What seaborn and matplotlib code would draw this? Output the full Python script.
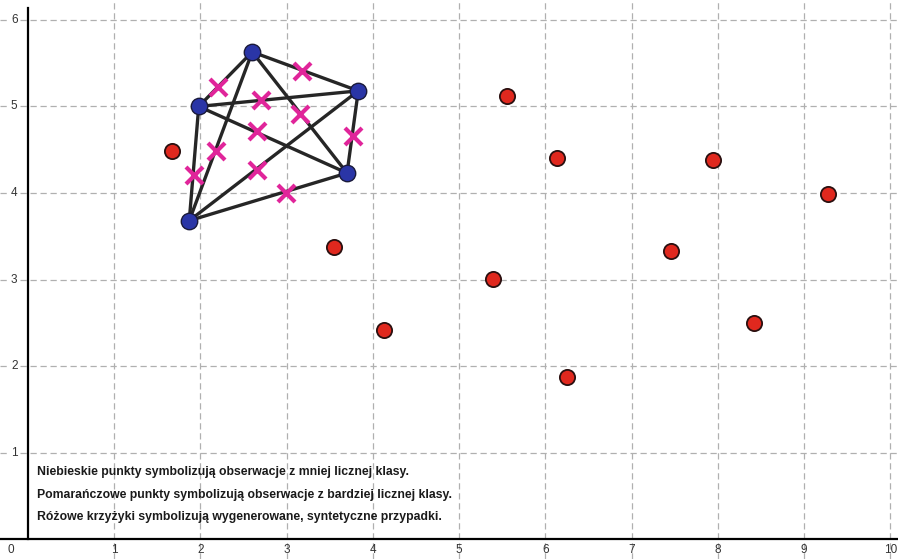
import itertools
import numpy as np
import pandas as pd
import matplotlib
matplotlib.use("Agg")
import matplotlib.pyplot as plt
import seaborn as sns

# minority class (blue)
blue_x = [2.60, 1.98, 3.83, 3.70, 1.87]
blue_y = [5.63, 5.00, 5.18, 4.23, 3.68]

# majority class (red)
red_x = [1.67, 3.55, 5.56, 6.14, 7.94, 9.28, 7.46, 5.39, 4.13, 8.42, 6.25]
red_y = [4.49, 3.38, 5.12, 4.40, 4.38, 3.99, 3.33, 3.01, 2.42, 2.50, 1.87]

# synthetic samples (pink crosses)
pink_x = [2.20, 3.18, 2.70, 3.16, 2.65, 3.77, 2.18, 1.92, 2.66, 2.99]
pink_y = [5.22, 5.41, 5.07, 4.91, 4.72, 4.66, 4.48, 4.21, 4.27, 4.00]

x_ticks = [1, 2, 3, 4, 5, 6, 7, 8, 9, 10]
y_ticks = [1, 2, 3, 4, 5, 6]

notes = [
    "Niebieskie punkty symbolizują obserwacje z mniej licznej klasy.",
    "Pomarańczowe punkty symbolizują obserwacje z bardziej licznej klasy.",
    "Różowe krzyżyki symbolizują wygenerowane, syntetyczne przypadki.",
]

sns.set_style("white")
plt.rcParams['font.family'] = ['Liberation Sans', 'DejaVu Sans']

fig = plt.figure(figsize=(8.98, 5.59), dpi=100)
ax = fig.add_axes([0, 0, 1, 1])

blue = pd.DataFrame({"x": blue_x, "y": blue_y})
red = pd.DataFrame({"x": red_x, "y": red_y})
pink = pd.DataFrame({"x": pink_x, "y": pink_y})

# grid
for v in x_ticks:
    ax.axvline(v, color="#b0b0b0", lw=0.9, ls=(0, (5, 3)), zorder=0)
for v in y_ticks:
    ax.axhline(v, color="#b0b0b0", lw=0.9, ls=(0, (5, 3)), zorder=0)

# edges between every pair of minority points
for i, j in itertools.combinations(range(len(blue_x)), 2):
    ax.plot([blue_x[i], blue_x[j]], [blue_y[i], blue_y[j]],
            color="#262626", lw=2.4, zorder=2)

sns.scatterplot(data=pink, x="x", y="y", ax=ax, marker="x", s=150,
                color="#e0259a", linewidth=3.0, zorder=4)
sns.scatterplot(data=blue, x="x", y="y", ax=ax, s=140, color="#2a35a6",
                edgecolor="#1a1a3a", linewidth=1.0, zorder=5)
sns.scatterplot(data=red, x="x", y="y", ax=ax, s=120, color="#e0281e",
                edgecolor="#2a1010", linewidth=1.3, zorder=5)

ax.set_xlim(-0.325, 10.09)
ax.set_ylim(-0.23, 6.23)
ax.set_xlabel("")
ax.set_ylabel("")
ax.set_xticks([])
ax.set_yticks([])

for s in ["top", "right"]:
    ax.spines[s].set_visible(False)
ax.spines["left"].set_position(("data", 0))
ax.spines["bottom"].set_position(("data", 0))
ax.spines["left"].set_bounds(0, 6.14)
ax.spines["left"].set_linewidth(1.6)
ax.spines["bottom"].set_linewidth(1.6)
ax.spines["left"].set_color("black")
ax.spines["bottom"].set_color("black")
ax.spines["bottom"].set_zorder(6)

for v in x_ticks:
    ax.text(v, -0.13, str(v), ha="center", va="center", fontsize=8.5,
            color="#333333")
for v in y_ticks:
    ax.text(-0.16, v, str(v), ha="center", va="center", fontsize=8.5,
            color="#333333", bbox=dict(facecolor="white", edgecolor="none", pad=0.5))
ax.text(-0.2, -0.13, "0", ha="center", va="center", fontsize=8.5, color="#333333")

for k, line in enumerate(notes):
    ax.text(0.1, 0.77 - k * 0.255, line, ha="left", va="center", fontsize=8.8,
            fontweight="bold", color="#1a1a1a")

fig.savefig("out.png", dpi=100)
